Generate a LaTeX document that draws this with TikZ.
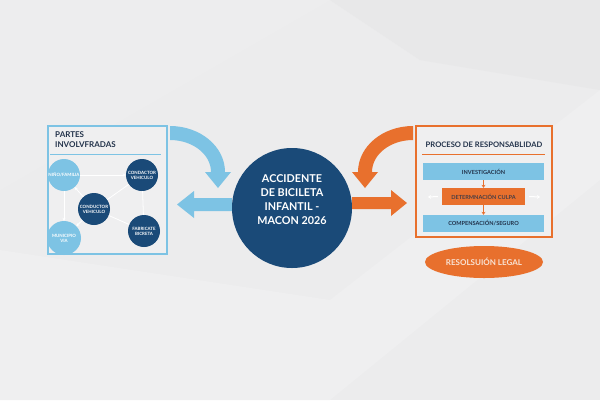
\documentclass[tikz,border=0pt]{standalone}
\usepackage{fontspec}
\setmainfont{Lato}
\usetikzlibrary{arrows.meta,shapes.geometric}
\definecolor{bgc}{HTML}{ECECED}
\definecolor{bgl}{HTML}{EFEFF0}
\definecolor{bgd}{HTML}{E8E8E9}
\definecolor{lblue}{HTML}{7DC3E4}
\definecolor{dblue}{HTML}{1A4A78}
\definecolor{oran}{HTML}{E8702D}
\definecolor{navy}{HTML}{22324A}
\definecolor{cream}{HTML}{F8E4D6}
\tikzset{
  dot/.style={circle, minimum size=32pt, inner sep=0pt, text=white, align=center,
    font=\fontsize{4.4}{5}\selectfont\bfseries},
  ldot/.style={dot, fill=lblue},
  ddot/.style={dot, fill=dblue},
  link/.style={white, line width=0.8pt},
  linkarr/.style={link, -{Stealth[length=3pt,width=3pt]}},
  bar/.style={minimum width=121pt, minimum height=17pt, inner sep=0pt, fill=lblue,
    text=navy, font=\fontsize{5.6}{6}\selectfont\bfseries},
  panel/.style={line width=1.4pt, fill=bgl, inner sep=0pt},
}
\begin{document}
\begin{tikzpicture}[x=1pt,y=-1pt]
\useasboundingbox (0,0) rectangle (600,400);
% background
\fill[bgc] (0,0) rectangle (600,400);
\fill[bgl] (0,250) -- (0,400) -- (330,400) -- (600,180) -- (600,90) -- (330,300) -- cycle;
\fill[bgd] (330,0) -- (600,0) -- (600,90) -- (420,60) -- cycle;
\fill[bgl,opacity=0.6] (0,0) -- (330,0) -- (0,190) -- cycle;

% left panel
\node[panel, draw=lblue, minimum width=119pt, minimum height=128pt] (lpanel) at (107.5,190) {};
\node[anchor=north west, align=left, text=navy, inner sep=0pt,
      font=\fontsize{8}{10}\selectfont\bfseries] (ltitle) at (55,131) {PARTES\\INVOLVFRADAS};
\draw[lblue, line width=1pt] (50,154) -- (161,154);

\node[ldot] (nino) at (64,175) {NIÑO/FAMILIA};
\node[ddot] (cond1) at (142,175) {CONDACTOR\\VEHICULO};
\node[ddot] (cond2) at (94,209) {CONDUCTOR\\VEHICULO};
\node[ddot] (fabr) at (144,231) {FABRICATE\\BICRETA};
\node[ldot, minimum size=34pt] (muni) at (64,238) {MUNICIPIO\\VIA};

\draw[linkarr] (nino) -- (cond1);
\draw[linkarr] (nino) -- (muni);
\draw[linkarr] (cond2) -- (nino);
\draw[linkarr] (cond2) -- (muni);
\draw[link] (cond2) -- (cond1);
\draw[link] (cond2) -- (fabr);
\draw[link] (cond1) -- (fabr);

% center
\node[circle, fill=dblue, minimum size=120pt, inner sep=0pt] (acc) at (292,208) {};
\node[text=white, align=center, inner sep=0pt,
      font=\fontsize{10.8}{14}\selectfont\bfseries] (acclabel) at (292,200)
      {ACCIDENTE\\DE BICILETA\\INFANTIL -\\MACON 2026};

% curved blue arrow
\fill[lblue] (170,126) .. controls (200.4,126) and (225,146.6) .. (225,172)
  -- (231,172) -- (218,188) -- (205,172) -- (211,172)
  .. controls (211,154.3) and (192.6,140) .. (170,140) -- cycle;
% curved orange arrow (mirror)
\fill[oran] (413,126) .. controls (382.6,126) and (358,146.6) .. (358,172)
  -- (352,172) -- (365,188) -- (378,172) -- (372,172)
  .. controls (372,154.3) and (390.4,140) .. (413,140) -- cycle;
% straight arrows
\fill[lblue] (acc.west |- 0,198) -- (194,198) -- (194,191) -- (177,204.5) -- (194,218) -- (194,211) -- (acc.west |- 0,211) -- cycle;
\fill[oran] (acc.east |- 0,197) -- (391,197) -- (391,190) -- (407,203) -- (391,216) -- (391,209) -- (acc.east |- 0,209) -- cycle;

% right panel
\node[panel, draw=oran, minimum width=136pt, minimum height=111pt] (rpanel) at (484,181.5) {};
\node[text=navy, inner sep=0pt, font=\fontsize{7.6}{9}\selectfont\bfseries] (rtitle) at (484,145) {PROCESO DE RESPONSABLIDAD};
\draw[oran, line width=1pt] (422,154) -- (545,154);

\node[bar] (inv) at (483.5,171.5) {INVESTIGACIÓN};
\node[bar, fill=oran, minimum width=83pt, text=navy!80!oran] (det) at (483.5,196.5) {DETERMNACIÓN CULPA};
\node[bar] (comp) at (483.5,223.5) {COMPENSACIÓN/SEGURO};
\draw[oran, line width=1pt, -{Stealth[length=3pt,width=4pt]}] (inv) -- (det);
\draw[oran, line width=1pt, -{Stealth[length=3pt,width=4pt]}] (det) -- (comp);
\coordinate (lw) at (428,197);
\coordinate (re) at (540,197);
\draw[white, line width=1pt, -{Stealth[length=3pt,width=4pt]}] ([xshift=-4pt]det.west) -- (lw);
\draw[white, line width=1pt, -{Stealth[length=3pt,width=4pt]}] ([xshift=4pt]det.east) -- (re);

\node[ellipse, fill=oran, minimum width=118pt, minimum height=32pt, inner sep=0pt,
      text=cream, font=\fontsize{8}{9}\selectfont\bfseries] (res) at (484,262) {RESOLSUIÓN LEGAL};
\end{tikzpicture}
\end{document}
